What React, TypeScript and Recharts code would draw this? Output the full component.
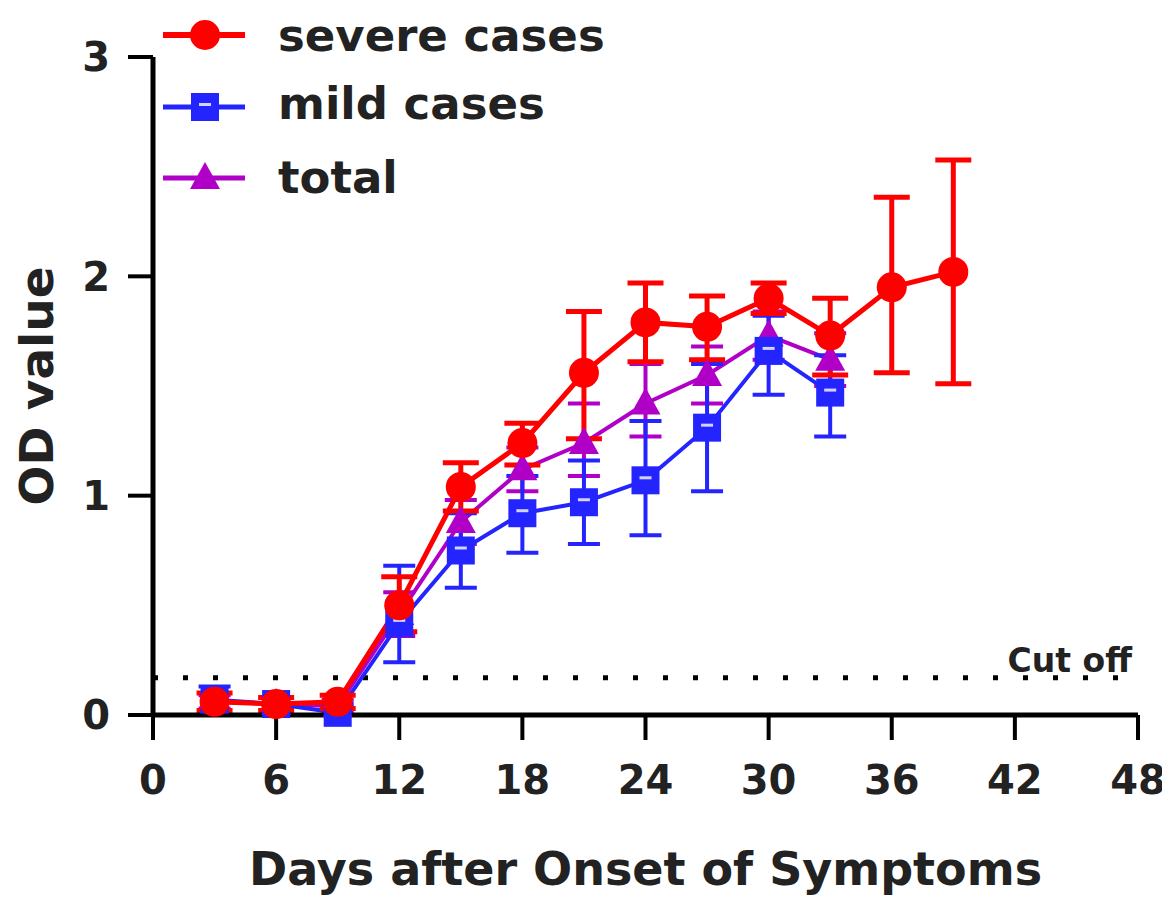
import { LineChart, Line, XAxis, YAxis, ErrorBar, ReferenceLine, Legend } from 'recharts';

// days after onset of symptoms (x positions of the sampled points)
const days = [3, 6, 9, 12, 15, 18, 21, 24, 27, 30, 33, 36, 39];

const severeMean = [0.06, 0.05, 0.06, 0.5, 1.04, 1.24, 1.56, 1.79, 1.77, 1.9, 1.73, 1.95, 2.02];
const severeLow = [0.02, 0.02, 0.03, 0.38, 0.93, 1.14, 1.26, 1.61, 1.62, 1.83, 1.55, 1.56, 1.51];
const severeHigh = [0.1, 0.08, 0.09, 0.63, 1.15, 1.33, 1.84, 1.97, 1.91, 1.97, 1.9, 2.36, 2.53];

const mildMean = [0.07, 0.05, 0.01, 0.42, 0.75, 0.92, 0.97, 1.07, 1.31, 1.66, 1.47];
const mildLow = [0.02, 0.01, 0.0, 0.24, 0.58, 0.74, 0.78, 0.82, 1.02, 1.46, 1.27];
const mildHigh = [0.13, 0.08, 0.05, 0.68, 0.92, 1.09, 1.16, 1.34, 1.6, 1.82, 1.64];

const totalMean = [0.06, 0.05, 0.04, 0.46, 0.88, 1.12, 1.24, 1.42, 1.55, 1.73, 1.62];
const totalLow = [0.03, 0.02, 0.01, 0.36, 0.78, 1.02, 1.09, 1.27, 1.42, 1.62, 1.5];
const totalHigh = [0.09, 0.08, 0.07, 0.56, 0.98, 1.22, 1.42, 1.6, 1.68, 1.84, 1.74];

const xTicks = [0, 6, 12, 18, 24, 30, 36, 42, 48];
const yTicks = [0, 1, 2, 3];
const cutOff = 0.17;

const seriesNames = ['severe cases', 'mild cases', 'total'];

const FONT = '"DejaVu Sans", sans-serif';
const INK = '#222';
const RED = '#ff0000';
const BLUE = '#2424ff';
const PURPLE = '#b000c8';

const pick = (mean: number[], i: number) => (i < mean.length ? mean[i] : null);
const err = (mean: number[], low: number[], high: number[], i: number) =>
  i < mean.length ? [mean[i] - low[i], high[i] - mean[i]] : null;

const rows = days.map((day, i) => ({
  day,
  severe: pick(severeMean, i),
  severeErr: err(severeMean, severeLow, severeHigh, i),
  mild: pick(mildMean, i),
  mildErr: err(mildMean, mildLow, mildHigh, i),
  total: pick(totalMean, i),
  totalErr: err(totalMean, totalLow, totalHigh, i),
}));

const circle = (cx: number, cy: number, key?: string) => (
  <circle key={key} cx={cx} cy={cy} r={15} fill={RED} />
);
const square = (cx: number, cy: number, key?: string) => (
  <g key={key}>
    <rect x={cx - 14} y={cy - 14} width={28} height={28} fill={BLUE} />
    <rect x={cx - 6} y={cy - 4} width={12} height={3} fill="#fff" opacity={0.8} />
  </g>
);
const triangle = (cx: number, cy: number, key?: string) => (
  <polygon key={key} points={`${cx},${cy - 16} ${cx + 15},${cy + 11} ${cx - 15},${cy + 11}`} fill={PURPLE} />
);

const makeDot = (shape: typeof circle, name: string) => (p: any) => {
  const k = `${name}-${p.index}`;
  if (p.cx == null || p.cy == null || p.value == null) return <g key={k} />;
  return shape(p.cx, p.cy, k);
};

function LegendBox() {
  const items = [
    { color: RED, width: 6, shape: circle, y: 27, base: 43 },
    { color: BLUE, width: 5, shape: square, y: 99, base: 111 },
    { color: PURPLE, width: 5, shape: triangle, y: 170, base: 185 },
  ];
  return (
    <svg width={660} height={210}>
      {items.map((it, i) => (
        <g key={seriesNames[i]}>
          <line x1={155} x2={237} y1={it.y} y2={it.y} stroke={it.color} strokeWidth={it.width} />
          {it.shape(197, it.y)}
          <text x={270} y={it.base} fontFamily={FONT} fontWeight="bold" fontSize={45} fill={INK}>
            {seriesNames[i]}
          </text>
        </g>
      ))}
    </svg>
  );
}

const tickStyle = { fontFamily: FONT, fontSize: 40, fontWeight: 'bold', fill: INK };
const titleStyle = { fontFamily: FONT, fontSize: 46, fontWeight: 'bold', fill: INK };

export default function App() {
  return (
    <LineChart width={1162} height={890} data={rows} margin={{ top: 49, right: 32, bottom: 0, left: 0 }}>
      <XAxis
        type="number"
        dataKey="day"
        domain={[0, 48]}
        ticks={xTicks}
        interval={0}
        height={183}
        tickSize={25}
        tickMargin={26}
        axisLine={{ stroke: '#000', strokeWidth: 5 }}
        tickLine={{ stroke: '#000', strokeWidth: 4 }}
        tick={tickStyle}
        label={{
          value: 'Days after Onset of Symptoms',
          position: 'insideBottom',
          offset: 13,
          ...titleStyle,
        }}
      />
      <YAxis
        type="number"
        domain={[0, 3]}
        ticks={yTicks}
        interval={0}
        width={145}
        tickSize={25}
        tickMargin={18}
        axisLine={{ stroke: '#000', strokeWidth: 5 }}
        tickLine={{ stroke: '#000', strokeWidth: 4 }}
        tick={tickStyle}
        label={{
          value: 'OD value',
          angle: -90,
          position: 'insideLeft',
          offset: 28,
          style: { textAnchor: 'middle' },
          ...titleStyle,
          fontSize: 47,
        }}
      />
      <ReferenceLine
        y={cutOff}
        stroke="#000"
        strokeWidth={5}
        strokeDasharray="5 25"
        label={{
          value: 'Cut off',
          position: 'insideBottomRight',
          offset: 6,
          fontFamily: FONT,
          fontSize: 33,
          fontWeight: 'bold',
          fill: INK,
        }}
      />
      <Line
        dataKey="total"
        name="total"
        stroke={PURPLE}
        strokeWidth={4}
        dot={makeDot(triangle, 'total')}
        activeDot={false}
        isAnimationActive={false}
      >
        <ErrorBar dataKey="totalErr" width={16} stroke={PURPLE} strokeWidth={4} direction="y" />
      </Line>
      <Line
        dataKey="mild"
        name="mild cases"
        stroke={BLUE}
        strokeWidth={4}
        dot={makeDot(square, 'mild')}
        activeDot={false}
        isAnimationActive={false}
      >
        <ErrorBar dataKey="mildErr" width={16} stroke={BLUE} strokeWidth={4} direction="y" />
      </Line>
      <Line
        dataKey="severe"
        name="severe cases"
        stroke={RED}
        strokeWidth={5}
        dot={makeDot(circle, 'severe')}
        activeDot={false}
        isAnimationActive={false}
      >
        <ErrorBar dataKey="severeErr" width={18} stroke={RED} strokeWidth={5} direction="y" />
      </Line>
      <Legend
        layout="vertical"
        align="center"
        verticalAlign="middle"
        wrapperStyle={{ top: 0, left: 0, width: 660, height: 210 }}
        content={() => <LegendBox />}
      />
    </LineChart>
  );
}
